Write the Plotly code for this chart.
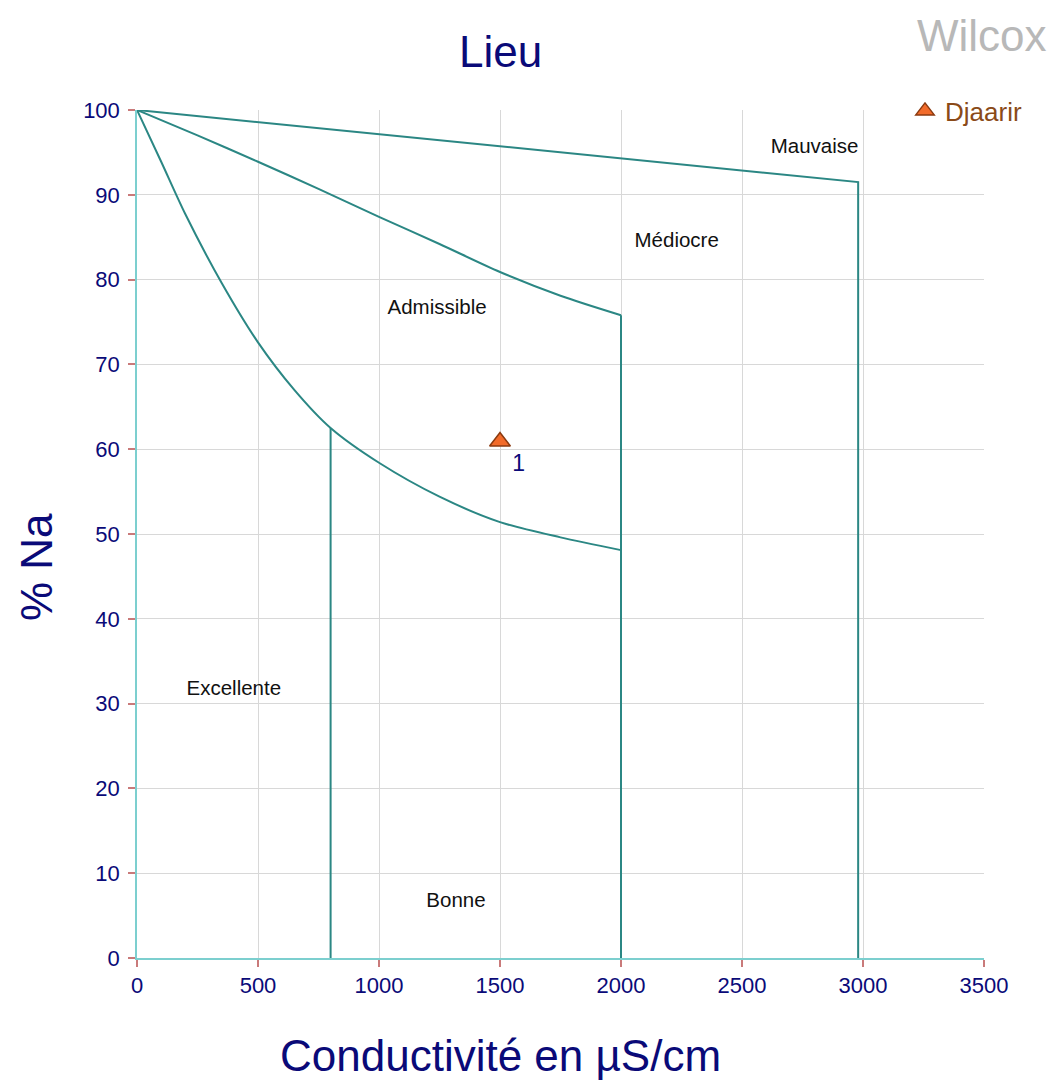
import plotly.graph_objects as go

# Wilcox diagram boundary curves (conductivity in µS/cm, % Na)
upper_x = [0, 2980, 2980]
upper_y = [100, 91.5, 0]

middle_x = [0, 250, 500, 750, 1000, 1250, 1500, 1750, 2000]
middle_y = [100, 97.0, 93.9, 90.7, 87.4, 84.2, 80.9, 78.1, 75.8]

lower_x = [0, 100, 200, 350, 500, 650, 800, 1000, 1250, 1500, 1750, 2000]
lower_y = [100, 93.9, 87.7, 79.6, 72.6, 67.0, 62.5, 58.4, 54.4, 51.4, 49.6, 48.1]

split_800_x = [800, 800]
split_800_y = [62.5, 0]
split_2000_x = [2000, 2000]
split_2000_y = [75.8, 0]

# Classification zone labels
zone_names = ["Mauvaise", "Médiocre", "Admissible", "Excellente", "Bonne"]
zone_x = [2800, 2230, 1240, 400, 1318]
zone_y = [95.5, 84.5, 76.5, 31.6, 6.6]

# Sample
sample_names = ["1"]
sample_cond = [1500]
sample_na = [60.9]

line_color = "#2b8784"
navy = "#0a0a78"
font_family = "Liberation Sans, Arial"

fig = go.Figure()

for xs, ys, shape in [
    (upper_x, upper_y, "linear"),
    (middle_x, middle_y, "spline"),
    (lower_x, lower_y, "spline"),
    (split_800_x, split_800_y, "linear"),
    (split_2000_x, split_2000_y, "linear"),
]:
    fig.add_trace(go.Scatter(
        x=xs, y=ys, mode="lines",
        line=dict(color=line_color, width=2, shape=shape, smoothing=0.8),
        showlegend=False, hoverinfo="skip",
    ))

fig.add_trace(go.Scatter(
    x=zone_x, y=zone_y, mode="text", text=zone_names,
    textfont=dict(family=font_family, size=20.5, color="#111111"),
    showlegend=False, hoverinfo="skip",
))

fig.add_trace(go.Scatter(
    x=sample_cond, y=sample_na, mode="markers+text",
    text=sample_names, textposition="bottom right",
    textfont=dict(family=font_family, size=23, color=navy),
    marker=dict(symbol="triangle-up", size=18, color="#f26b2a",
                line=dict(color="#8a3a10", width=1.5)),
    name="Djaarir", showlegend=True, cliponaxis=False,
))

axis_common = dict(
    showline=True, linecolor="#7ccfcf", linewidth=1.5,
    showgrid=True, gridcolor="#d8d8d8", gridwidth=1,
    zeroline=False,
    ticks="outside", ticklen=7, tickcolor="#c97a7a", tickwidth=1.5,
    tickfont=dict(family=font_family, size=22, color=navy),
)

fig.update_xaxes(range=[0, 3500], dtick=500, tick0=0, **axis_common)
fig.update_yaxes(range=[0, 100], dtick=10, tick0=0, ticklabelstandoff=4, **axis_common)

# Plot-area edges in page pixels, used to place the free-floating titles
pl, pr, pt, pb = 137, 984, 110, 958


def px_x(v):
    return (v - pl) / (pr - pl)


def px_y(v):
    return (pb - v) / (pb - pt)


fig.update_layout(
    width=1056, height=1081,
    margin=dict(l=pl, r=1056 - pr, t=pt, b=1081 - pb),
    paper_bgcolor="white", plot_bgcolor="white",
    showlegend=True,
    legend=dict(
        x=px_x(905), xanchor="left", y=px_y(111), yanchor="middle",
        bgcolor="rgba(0,0,0,0)",
        font=dict(family=font_family, size=26, color="#8a4a18"),
    ),
    annotations=[
        dict(text="Lieu", x=px_x(500), y=px_y(52), xref="paper", yref="paper",
             xanchor="center", yanchor="middle", showarrow=False,
             font=dict(family=font_family, size=44, color=navy)),
        dict(text="Wilcox", x=px_x(1049), y=px_y(35), xref="paper", yref="paper",
             xanchor="right", yanchor="middle", showarrow=False,
             font=dict(family=font_family, size=44, color="#b8b8b8")),
        dict(text="% Na", x=px_x(36), y=px_y(567), xref="paper", yref="paper",
             xanchor="center", yanchor="middle", textangle=-90, showarrow=False,
             font=dict(family=font_family, size=44, color=navy)),
        dict(text="Conductivité en µS/cm", x=px_x(500), y=px_y(1055),
             xref="paper", yref="paper", xanchor="center", yanchor="middle",
             showarrow=False,
             font=dict(family=font_family, size=44, color=navy)),
    ],
)

fig.write_html("out.html")
